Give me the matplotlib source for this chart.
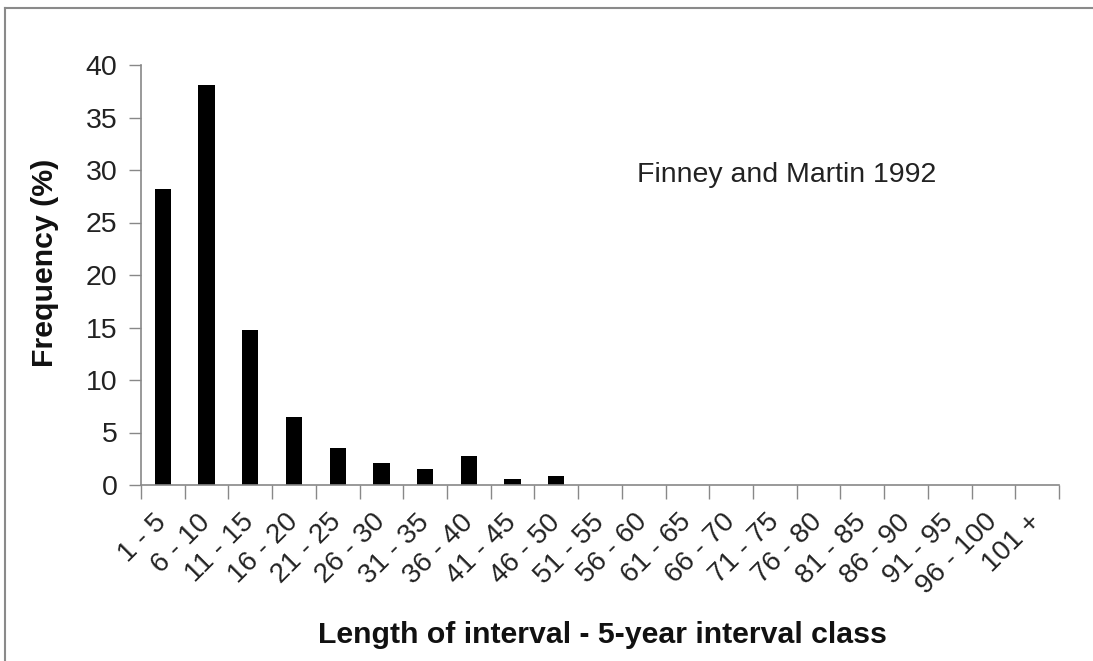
import matplotlib
matplotlib.use("Agg")
import matplotlib.pyplot as plt
from matplotlib import font_manager
from matplotlib.lines import Line2D
from matplotlib.ticker import FixedLocator, NullFormatter
import numpy as np

categories = ["1 - 5", "6 - 10", "11 - 15", "16 - 20", "21 - 25", "26 - 30",
              "31 - 35", "36 - 40", "41 - 45", "46 - 50", "51 - 55", "56 - 60",
              "61 - 65", "66 - 70", "71 - 75", "76 - 80", "81 - 85", "86 - 90",
              "91 - 95", "96 - 100", "101 +"]
frequency = [28.2, 38.1, 14.8, 6.5, 3.5, 2.1, 1.5, 2.8, 0.6, 0.9,
             0, 0, 0, 0, 0, 0, 0, 0, 0, 0, 0]
y_ticks = [0, 5, 10, 15, 20, 25, 30, 35, 40]
annotation = "Finney and Martin 1992"
x_title = "Length of interval - 5-year interval class"
y_title = "Frequency (%)"

names = {f.name for f in font_manager.fontManager.ttflist}
regular = "Liberation Sans" if "Liberation Sans" in names else "DejaVu Sans"
narrow = "Liberation Sans Narrow" if "Liberation Sans Narrow" in names else regular
title_size = 25 if narrow != regular else 21.8

W, H = 1093, 661
fig = plt.figure(figsize=(W / 100, H / 100), dpi=100)
fig.patch.set_facecolor("white")

left, right, top, bottom = 141, 1059, 65, 485
ax = fig.add_axes([left / W, 1 - bottom / H, (right - left) / W, (bottom - top) / H])

x = np.arange(len(categories))
ax.bar(x, frequency, width=0.37, color="black", linewidth=0)

ax.set_xlim(-0.5, len(categories) - 0.5)
ax.set_ylim(0, 40)
ax.set_yticks(y_ticks)
ax.set_yticklabels([str(v) for v in y_ticks], fontsize=20.5, family=regular, color="#222222")

ax.xaxis.set_major_locator(FixedLocator(np.arange(-0.5, len(categories), 1.0)))
ax.xaxis.set_major_formatter(NullFormatter())
ax.set_xticks(x, minor=True)
ax.set_xticklabels(categories, minor=True, rotation=45, ha="right", va="center",
                   rotation_mode="anchor", fontsize=20, family=regular, color="#222222")
ax.tick_params(axis="x", which="minor", length=0, pad=24)
ax.tick_params(axis="x", which="major", length=10, width=1, color="#888888", direction="out")
ax.tick_params(axis="y", length=9, width=1, color="#888888", direction="out", pad=8)

for s in ["top", "right"]:
    ax.spines[s].set_visible(False)
for s in ["left", "bottom"]:
    ax.spines[s].set_color("#888888")
    ax.spines[s].set_linewidth(1.2)

ax.text(0.540, 0.738, annotation, transform=ax.transAxes, fontsize=20.5,
        family=regular, color="#222222", ha="left", va="center")

fig.text(602 / W, 1 - 635 / H, x_title, fontsize=title_size, fontweight="bold",
         family=narrow, color="#111111", ha="center", va="center")
fig.text(45 / W, 1 - 263 / H, y_title, fontsize=title_size, fontweight="bold",
         family=narrow, color="#111111", ha="center", va="center", rotation=90)

# outer chart frame (top and left edges visible)
fx, fy = 5 / W, 1 - 8 / H
fig.add_artist(Line2D([fx, fx], [0, fy], transform=fig.transFigure, color="#8a8a8a", lw=1.5))
fig.add_artist(Line2D([fx, 1], [fy, fy], transform=fig.transFigure, color="#8a8a8a", lw=1.5))

fig.savefig("out.png", dpi=100, facecolor="white")
